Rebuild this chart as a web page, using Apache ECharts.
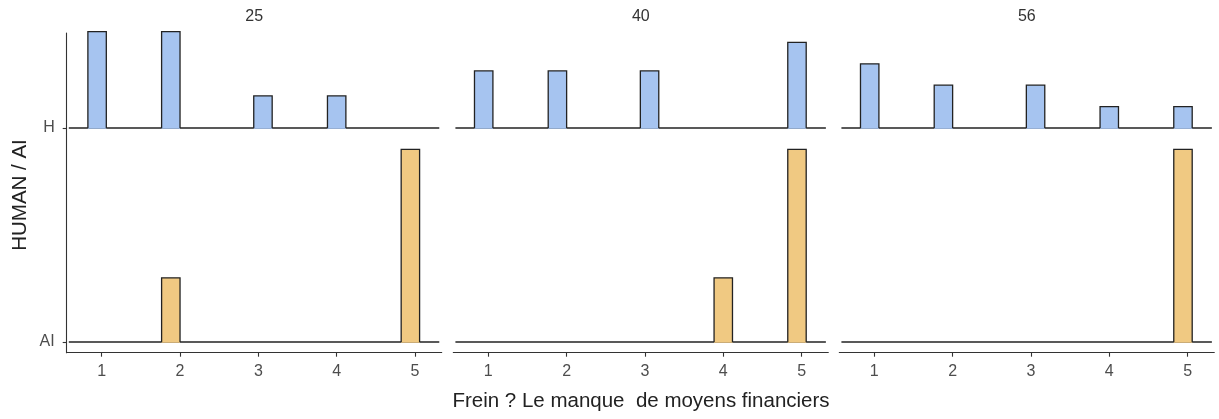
<!DOCTYPE html>
<html>
<head>
<meta charset="utf-8">
<script src="https://cdn.jsdelivr.net/npm/echarts@6/dist/echarts.min.js"></script>
<style>
  html, body { margin: 0; padding: 0; background: #fff; }
  #chart { width: 1219px; height: 419px; }
</style>
</head>
<body>
<div id="chart"></div>
<script>
// facets, response levels, histogram bins (one bin per response level)
const panels = ['25', '40', '56'];
const xTicks = [1, 2, 3, 4, 5];
const binLeft = [0.8235, 1.7647, 2.9412, 3.8824, 4.8235];
const binRight = [1.0588, 2.0, 3.1765, 4.1176, 5.0588];
// answer counts per facet, per response level
const countsH = [[3, 3, 1, 1, 0], [2, 2, 2, 0, 3], [3, 2, 2, 1, 1]];
const countsAI = [[0, 1, 0, 0, 3], [0, 0, 0, 1, 3], [0, 0, 0, 0, 1]];
const rowLabels = ['AI', 'H'];
const baselineRange = [0.58, 5.31];

var dom = document.getElementById('chart');
var myChart = echarts.init(dom);

const FONT = 'Liberation Sans';
const OUTLINE = '#222222';
const rowColors = { H: '#a6c4f0', AI: '#f0c982' };

const panelLeft = [66.7, 453.3, 839.3];
const panelWidth = 375;

function renderBar(params, api) {
    const h = api.value(3);
    if (!(h > 0)) return;
    const base = api.value(2);
    const p0 = api.coord([api.value(0), base]);
    const p1 = api.coord([api.value(1), base + h]);
    return {
        type: 'group',
        children: [
            {
                type: 'rect',
                shape: { x: p0[0], y: p1[1], width: p1[0] - p0[0], height: p0[1] - p1[1] + 0.8 },
                style: { fill: api.visual('color') }
            },
            {
                type: 'polyline',
                shape: { points: [[p0[0], p0[1]], [p0[0], p1[1]], [p1[0], p1[1]], [p1[0], p0[1]]] },
                style: { stroke: OUTLINE, lineWidth: 1.3, fill: null }
            }
        ]
    };
}

const grids = [], xAxes = [], yAxes = [], series = [];
panels.forEach((name, i) => {
    grids.push({ left: panelLeft[i], width: panelWidth, top: 33, bottom: 66.3 });
    xAxes.push({
        type: 'value', gridIndex: i, min: 0.553, max: 5.341,
        splitLine: { show: false },
        axisLine: { onZero: false, lineStyle: { color: '#333', width: 1.1 } },
        axisTick: { customValues: xTicks, length: 4, lineStyle: { color: '#333', width: 1.1 } },
        axisLabel: { customValues: xTicks, color: '#4d4d4d', fontSize: 16, fontFamily: FONT, margin: 11 }
    });
    yAxes.push({
        type: 'value', gridIndex: i, min: -0.05, max: 1.444,
        show: i === 0,
        splitLine: { show: false },
        axisLine: { show: true, onZero: false, lineStyle: { color: '#333', width: 1.1 } },
        axisTick: { customValues: [0, 1], length: 4, lineStyle: { color: '#333', width: 1.1 } },
        axisLabel: {
            customValues: [0, 1], color: '#4d4d4d', fontSize: 16, fontFamily: FONT, margin: 12,
            formatter: v => rowLabels[Math.round(v)]
        }
    });

    const hDen = countsH[i].map(c => c / countsH[i].reduce((a, b) => a + b, 0));
    const aDen = countsAI[i].map(c => c / countsAI[i].reduce((a, b) => a + b, 0));
    const maxDen = Math.max(...hDen, ...aDen);

    [['AI', 0, aDen], ['H', 1, hDen]].forEach(([row, base, den]) => {
        series.push({
            type: 'line', xAxisIndex: i, yAxisIndex: i, symbol: 'none', z: 2,
            silent: true,
            lineStyle: { color: OUTLINE, width: 1.3 },
            data: [[baselineRange[0], base], [baselineRange[1], base]]
        });
        series.push({
            type: 'custom', xAxisIndex: i, yAxisIndex: i, z: 3,
            itemStyle: { color: rowColors[row] },
            renderItem: renderBar,
            encode: { x: [0, 1], y: 2 },
            data: xTicks.map((x, k) => [binLeft[k], binRight[k], base, den[k] / maxDen * 0.9])
        });
    });
});

const option = {
    animation: false,
    backgroundColor: '#fff',
    grid: grids,
    xAxis: xAxes,
    yAxis: yAxes,
    series: series,
    graphic: [
        ...panels.map((name, i) => ({
            type: 'text', x: panelLeft[i] + panelWidth / 2, y: 17,
            style: { text: name, fill: '#333', fontSize: 16, fontFamily: FONT, align: 'center', verticalAlign: 'middle' }
        })),
        {
            type: 'text', x: 641, y: 401,
            style: { text: 'Frein ? Le manque  de moyens financiers', fill: '#222', fontSize: 20.5, fontFamily: FONT, align: 'center', verticalAlign: 'middle' }
        },
        {
            type: 'text', x: 20, y: 195, rotation: Math.PI / 2,
            style: { text: 'HUMAN / AI', fill: '#222', fontSize: 20.5, fontFamily: FONT, align: 'center', verticalAlign: 'middle' }
        }
    ]
};
myChart.setOption(option);
</script>
</body>
</html>
